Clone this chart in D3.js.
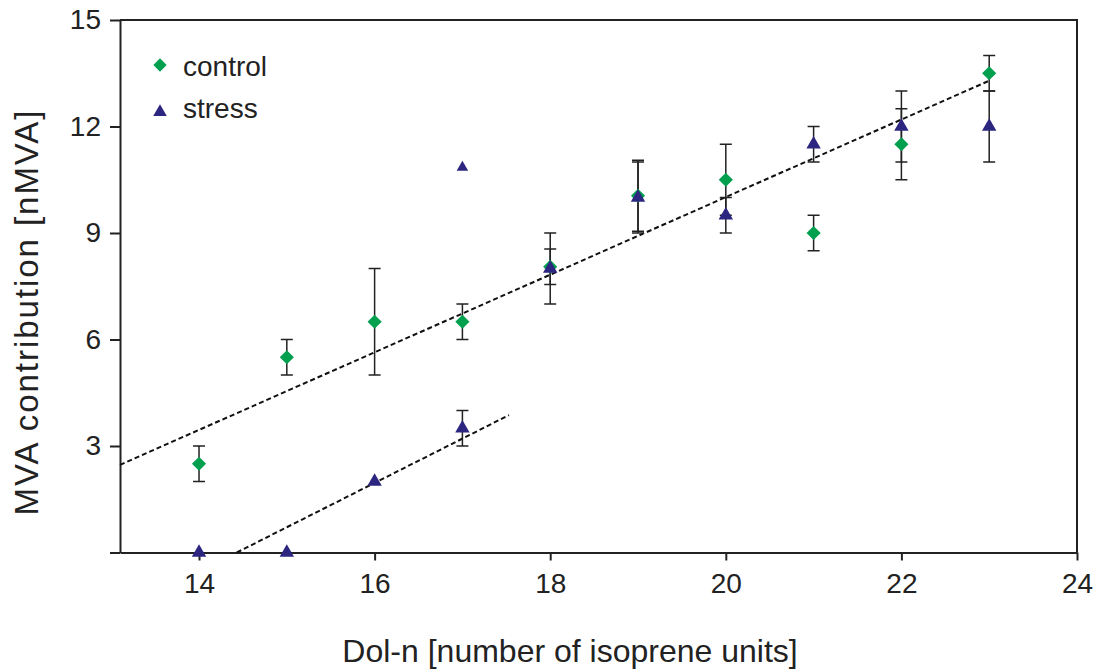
<!DOCTYPE html>
<html>
<head>
<meta charset="utf-8">
<script src="https://cdn.jsdelivr.net/npm/d3@7"></script>
<style>
    body { margin: 0; background: #fff; }
    text { font-family: "Liberation Sans", Arial, Helvetica, sans-serif; fill: #222; }
    .axis path, .axis line { stroke: #222; stroke-width: 2; }
    .axis text { font-size: 28px; }
    .err { stroke: #222; stroke-width: 1.5; fill: none; }
    .fit { stroke: #111; stroke-width: 2; stroke-dasharray: 5,3; fill: none; }
</style>
</head>
<body>
<div class="container"></div>
<script>
const DOL_N = [14, 15, 16, 17, 18, 19, 20, 21, 22, 23];

const CONTROL_MEAN = [2.5, 5.5, 6.5, 6.5, 8.05, 10.05, 10.5, 9, 11.5, 13.5];
const CONTROL_ERR = [0.5, 0.5, 1.5, 0.5, 0.5, 1, 1, 0.5, 1, 0.5];

const STRESS_MEAN = [0, 0, 2, 3.5, 8, 10, 9.5, 11.5, 12, 12];
const STRESS_ERR = [0, 0, 0, 0.5, 1, 1, 0.5, 0.5, 1, 1];

// lone stress point at Dol-17 without error bar
const STRESS_EXTRA = [[17, 10.85]];

// dashed regression lines, [x, y] ends
const CONTROL_FIT = [[13.1, 2.47], [23, 13.29]];
const STRESS_FIT = [[14.43, 0], [17.53, 3.87]];

const X_TICKS = [14, 16, 18, 20, 22, 24];
const Y_TICKS = [0, 3, 6, 9, 12, 15];

const WIDTH = 1101;
const HEIGHT = 669;
const LEFT = 120, RIGHT = 1077, TOP = 20, BOTTOM = 552.5;

const GREEN = '#00a04f';
const NAVY = '#2d2680';

let svg = d3.select('.container').append('svg')
    .attr('width', WIDTH)
    .attr('height', HEIGHT);

let xScale = d3.scaleLinear().domain([13.1, 24]).range([LEFT, RIGHT]);
let yScale = d3.scaleLinear().domain([0, 15]).range([BOTTOM, TOP]);

let xAxis = d3.axisBottom(xScale).tickValues(X_TICKS).tickSize(8).tickPadding(13).tickSizeOuter(0);
let yAxis = d3.axisLeft(yScale).tickValues(Y_TICKS).tickSize(10).tickPadding(9).tickSizeOuter(0)
    .tickFormat(d => d === 0 ? '' : d);

// frame top and right
svg.append('path')
    .attr('d', `M${LEFT},${TOP}H${RIGHT}V${BOTTOM}`)
    .attr('fill', 'none')
    .attr('stroke', '#222')
    .attr('stroke-width', 2);

svg.append('g')
    .attr('class', 'axis')
    .attr('transform', `translate(0, ${BOTTOM})`)
    .call(xAxis);

svg.append('g')
    .attr('class', 'axis')
    .attr('transform', `translate(${LEFT}, 0)`)
    .call(yAxis);

svg.selectAll('.axis text').attr('fill', '#222');

// axis titles
svg.append('text')
    .attr('text-anchor', 'middle')
    .attr('x', 570)
    .attr('y', 662)
    .style('font-size', '32px')
    .text('Dol-n [number of isoprene units]');

svg.append('text')
    .attr('text-anchor', 'middle')
    .attr('transform', `translate(38, 313)rotate(-90)`)
    .attr('textLength', 405)
    .attr('lengthAdjust', 'spacing')
    .style('font-size', '33px')
    .text('MVA contribution [nMVA]');

//--fit lines--
let line = d3.line()
    .x(p => xScale(p[0]))
    .y(p => yScale(p[1]));

svg.append('path').attr('class', 'fit').attr('d', line(CONTROL_FIT));
svg.append('path').attr('class', 'fit').attr('d', line(STRESS_FIT));

//--error bars--
const drawErrors = function (means, errs) {
    let rows = DOL_N.map((n, i) => ({ n: n, m: means[i], e: errs[i] })).filter(r => r.e > 0);
    let g = svg.append('g').attr('class', 'err');
    rows.forEach(r => {
        let x = xScale(r.n);
        let y1 = yScale(r.m + r.e);
        let y2 = yScale(r.m - r.e);
        g.append('path')
            .attr('d', `M${x},${y1}V${y2}M${x - 6},${y1}H${x + 6}M${x - 6},${y2}H${x + 6}`);
    });
};

drawErrors(CONTROL_MEAN, CONTROL_ERR);
drawErrors(STRESS_MEAN, STRESS_ERR);

//--markers--
let diamond = d3.symbol().type(d3.symbolSquare).size(100);
let triangle = d3.symbol().type(d3.symbolTriangle).size(90);
let smallTriangle = d3.symbol().type(d3.symbolTriangle).size(58);

svg.append('g').selectAll('path').data(DOL_N)
    .enter().append('path')
    .attr('d', diamond)
    .attr('fill', GREEN)
    .attr('transform', (n, i) => `translate(${xScale(n)}, ${yScale(CONTROL_MEAN[i])})rotate(45)`);

svg.append('g').selectAll('path').data(DOL_N)
    .enter().append('path')
    .attr('d', triangle)
    .attr('fill', NAVY)
    .attr('transform', (n, i) => `translate(${xScale(n)}, ${yScale(STRESS_MEAN[i])})`);

svg.append('g').selectAll('path').data(STRESS_EXTRA)
    .enter().append('path')
    .attr('d', smallTriangle)
    .attr('fill', NAVY)
    .attr('transform', p => `translate(${xScale(p[0])}, ${yScale(p[1])})`);

//--legend--
let legend = svg.append('g');

legend.append('path')
    .attr('d', d3.symbol().type(d3.symbolSquare).size(88))
    .attr('fill', GREEN)
    .attr('transform', 'translate(160, 65)rotate(45)');

legend.append('path')
    .attr('d', d3.symbol().type(d3.symbolTriangle).size(80))
    .attr('fill', NAVY)
    .attr('transform', 'translate(160, 112)');

legend.append('text')
    .attr('x', 183).attr('y', 76)
    .style('font-size', '28px')
    .text('control');

legend.append('text')
    .attr('x', 183).attr('y', 118)
    .style('font-size', '28px')
    .text('stress');
</script>
</body>
</html>
